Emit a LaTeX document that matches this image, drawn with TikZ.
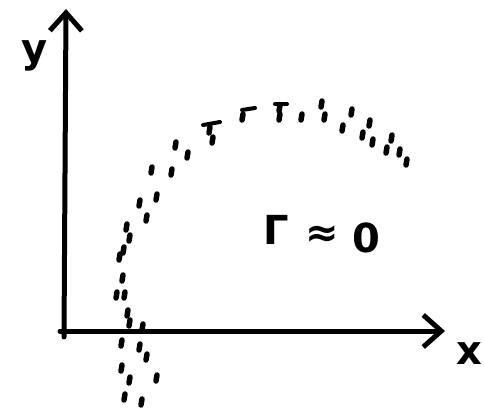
\documentclass[tikz,border=0pt]{standalone}
\usepackage{fontspec}
\newfontfamily\handfont{DejaVu Sans}
\usetikzlibrary{arrows.meta}
\begin{document}
\begin{tikzpicture}[x=1pt,y=-1pt,
  axis/.style={line width=5pt, line cap=round, line join=round, -{Straight Barb[length=18pt,width=32pt,line width=5pt]}},
  speck/.style={line width=5.5pt, line cap=round},
  bar/.style={line width=4pt, line cap=round},
  lbl/.style={inner sep=0pt, font=\handfont\bfseries\fontsize{40}{40}\selectfont}]
\useasboundingbox (0,0) rectangle (484,412);
% axes
\coordinate (ytip) at (66,9);
\coordinate (xtip) at (445,331);
\coordinate (ybase) at (64,337);
\coordinate (xbase) at (60,331);
\draw[axis] (ybase) -- (ytip);
\draw[axis] (xbase) -- (xtip);
% axis labels
\node[lbl] (ylab) at (35,56) {y};
\node[lbl, anchor=west] (xlab) at (456,354) {x};
% gamma text
\node[lbl] (gam) at (276,230) {Γ};
\node[lbl] (apx) at (322,236) {≈};
\node[lbl] (zero) at (366,238) {0};
% scattered points along the arc
\foreach \px/\py in {152/170,172/172,176/145,188/155,210/130,213/140,243/117,280/108,280/117,302/117,322/104,325/117,352/112,343/128,370/123,363/135,373/142,392/138,387/150,400/152,407/162,
  157/197,140/203,147/218,127/227,130/238,120/257,124/250,123/278,117/295,125/295,128/313,130/323,143/327,122/343,140/347,147/357,122/368,130/380,157/378,125/397,142/402}
  \draw[speck] (\px,\py-3) -- (\px-1,\py+3);
% little dash strokes on top
\draw[bar] (203,125) -- (220,122);
\draw[bar] (242,110) -- (255,108);
\draw[bar] (275,104) -- (287,104);
\end{tikzpicture}
\end{document}
